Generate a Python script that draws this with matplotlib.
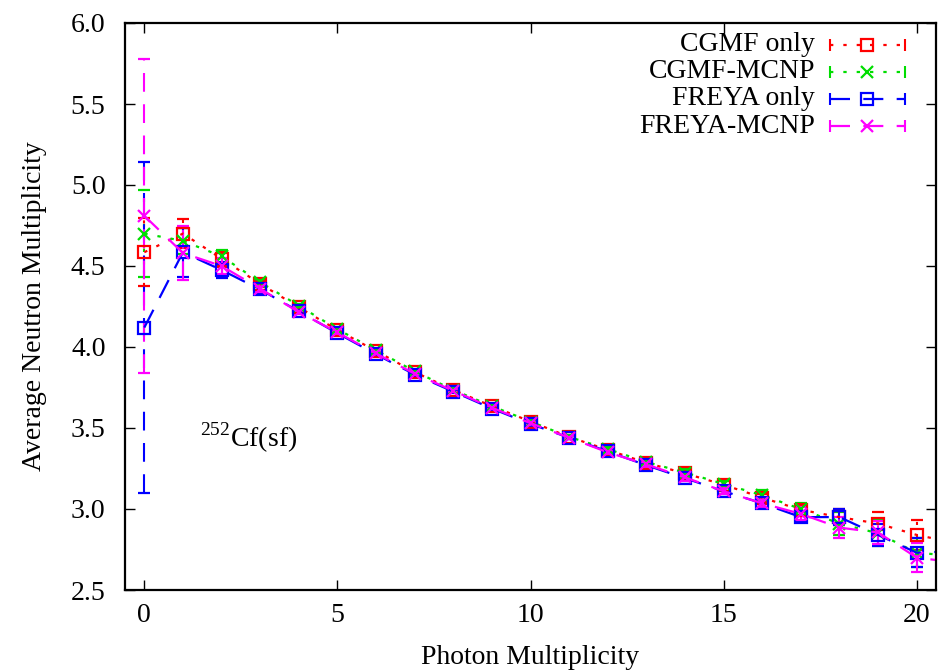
import matplotlib
matplotlib.use("Agg")
import matplotlib.pyplot as plt
import numpy as np

plt.rcParams['font.family'] = ['Liberation Serif', 'DejaVu Serif']
plt.rcParams['mathtext.fontset'] = 'custom'
plt.rcParams['mathtext.rm'] = 'Liberation Serif'

# Data
photon_mult = [0, 1, 2, 3, 4, 5, 6, 7, 8, 9, 10, 11, 12, 13, 14, 15, 16, 17, 18, 19, 20, 21]

cgmf_only = [4.585, 4.70, 4.545, 4.39, 4.245, 4.105, 3.975, 3.845, 3.735, 3.635, 3.54,
             3.445, 3.365, 3.285, 3.22, 3.15, 3.07, 2.995, 2.95, 2.91, 2.84, 2.79]
cgmf_only_err = [0.21, 0.09, 0.05, 0.02, 0.01, 0.01, 0.01, 0.01, 0.01, 0.01, 0.01,
                 0.01, 0.01, 0.015, 0.02, 0.02, 0.025, 0.03, 0.05, 0.07, 0.09, 0.1]

cgmf_mcnp = [4.70, 4.655, 4.56, 4.40, 4.255, 4.11, 3.98, 3.85, 3.735, 3.635, 3.54,
             3.445, 3.37, 3.29, 3.225, 3.155, 3.085, 3.00, 2.91, 2.85, 2.73, 2.71]
cgmf_mcnp_err = [0.27, 0.08, 0.04, 0.02, 0.01, 0.01, 0.01, 0.01, 0.01, 0.01, 0.01,
                 0.01, 0.01, 0.015, 0.02, 0.02, 0.03, 0.04, 0.07, 0.08, 0.09, 0.1]

freya_only = [4.12, 4.585, 4.475, 4.355, 4.22, 4.085, 3.955, 3.83, 3.725, 3.62, 3.525,
              3.44, 3.355, 3.27, 3.19, 3.11, 3.035, 2.95, 2.95, 2.84, 2.73, 2.74]
freya_only_err = [1.02, 0.15, 0.05, 0.02, 0.01, 0.01, 0.01, 0.01, 0.01, 0.01, 0.01,
                  0.01, 0.01, 0.015, 0.02, 0.02, 0.025, 0.03, 0.05, 0.07, 0.09, 0.1]

freya_mcnp = [4.81, 4.58, 4.50, 4.36, 4.215, 4.09, 3.96, 3.835, 3.73, 3.625, 3.53,
              3.44, 3.35, 3.275, 3.195, 3.11, 3.035, 2.97, 2.885, 2.855, 2.70, 2.67]
freya_mcnp_err = [0.97, 0.165, 0.05, 0.02, 0.01, 0.01, 0.01, 0.01, 0.01, 0.01, 0.01,
                  0.01, 0.01, 0.015, 0.02, 0.02, 0.025, 0.04, 0.065, 0.07, 0.09, 0.1]

labels = ["CGMF only", "CGMF-MCNP", "FREYA only", "FREYA-MCNP"]
colors = ["#ff0000", "#00dd00", "#0000ff", "#ff00ff"]
markers = ["s", "x", "s", "x"]
dotted = (0, (1.5, 4.5))
longdash = (0, (9, 6))
styles = [dotted, dotted, longdash, longdash]

series = [(cgmf_only, cgmf_only_err), (cgmf_mcnp, cgmf_mcnp_err),
          (freya_only, freya_only_err), (freya_mcnp, freya_mcnp_err)]

fig = plt.figure(figsize=(9.48, 6.72), dpi=100)
ax = fig.add_axes([125/948, 1-590/672, 811/948, 567/672])

for (vals, errs), c, m, ls in zip(series, colors, markers, styles):
    cont = ax.errorbar(photon_mult, vals, yerr=errs, color=c, marker=m,
                       markersize=8, markerfacecolor='none', markeredgewidth=1.6,
                       linewidth=1.6, linestyle=ls, capsize=4, capthick=1.5,
                       elinewidth=1.5)
    for lc in cont[2]:
        lc.set_linestyle(ls)

ax.set_xlim(-0.5, 20.5)
ax.set_ylim(2.5, 6.0)
ax.set_xticks([0, 5, 10, 15, 20])
ax.set_yticks(np.arange(2.5, 6.01, 0.5))
ax.yaxis.set_major_formatter(matplotlib.ticker.FormatStrFormatter('%.1f'))
ax.tick_params(direction='in', length=7, width=1, labelsize=20,
               top=True, right=True, pad=9)
ax.tick_params(axis='y', pad=14)
for sp in ax.spines.values():
    sp.set_linewidth(1.6)

fig.text(35/948, 1-306/672, "Average Neutron Multiplicity", rotation=90,
         ha='center', va='center', fontsize=20)
fig.text(530/948, 1-657/672, "Photon Multiplicity", ha='center', va='center',
         fontsize=20)

ax.text(1.45, 3.383, r'$^{252}$Cf(sf)', fontsize=20, ha='left', va='baseline')

# Manual legend (gnuplot style: text right-aligned, sample to the right)
x_text = 0.8508
x0, x1, xm = 0.869, 0.9618, 0.915
rows = [0.9612, 0.9136, 0.866, 0.8183]
for lab, c, m, ls, yr in zip(labels, colors, markers, styles, rows):
    ax.text(x_text, yr, lab, transform=ax.transAxes, ha='right', va='center',
            fontsize=20)
    ax.plot([x0, x1], [yr, yr], color=c, linestyle=ls, linewidth=1.6,
            transform=ax.transAxes, clip_on=False)
    ax.plot([xm], [yr], color=c, marker=m, markersize=8, markerfacecolor='none',
            markeredgewidth=1.6, linestyle='none', transform=ax.transAxes,
            clip_on=False)
    ax.plot([x0, x1], [yr, yr], color=c, marker='|', markersize=8,
            markeredgewidth=1.5, linestyle='none', transform=ax.transAxes,
            clip_on=False)

fig.savefig("out.png", dpi=100)
